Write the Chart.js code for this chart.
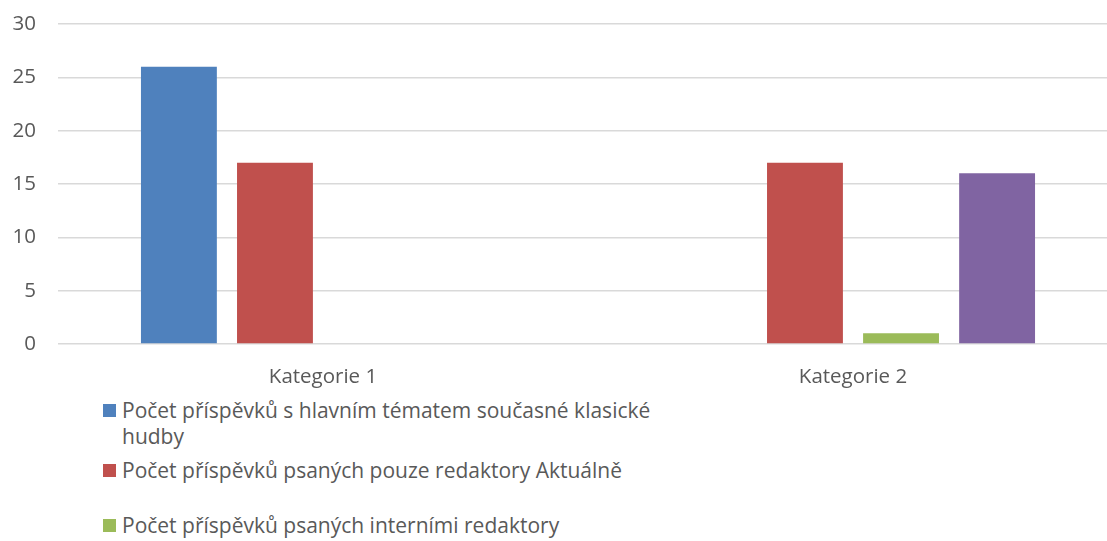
<!DOCTYPE html>
<html lang="cs">
<head>
    <meta charset="UTF-8">
    <title>Počet příspěvků</title>
    <script src="https://cdn.jsdelivr.net/npm/chart.js"></script>
    <style>
        html, body {
            margin: 0;
            width: 1107px;
            height: 541px;
            overflow: hidden;
            background: #fff;
            font-family: "Open Sans", sans-serif;
            color: #595959;
        }
        #wrap {
            position: absolute;
            left: 0;
            top: 0;
            width: 1120px;
            height: 392px;
        }
        #legend {
            position: absolute;
            left: 103px;
            top: 397px;
            width: 562px;
            font-size: 21px;
            line-height: 26px;
        }
        .item {
            display: flex;
            align-items: flex-start;
            min-height: 55px;
            padding-bottom: 8px;
            box-sizing: border-box;
        }
        .box {
            flex: 0 0 13px;
            height: 13px;
            margin: 7px 6px 0 0;
        }
    </style>
</head>
<body>
    <div id="wrap"><canvas id="chart"></canvas></div>
    <div id="legend"></div>
    <script>
        // data
        const categories = ['Kategorie 1', 'Kategorie 2'];
        const seriesNames = [
            'Počet příspěvků s hlavním tématem současné klasické hudby',
            'Počet příspěvků psaných pouze redaktory Aktuálně',
            'Počet příspěvků psaných interními redaktory',
            'Počet příspěvků psaných externími redaktory'
        ];
        const classicalMusic = [26, null];
        const onlyAktualne = [17, 17];
        const internal = [null, 1];
        const external = [null, 16];
        const yTicks = [0, 5, 10, 15, 20, 25, 30];

        const colors = ['#4f81bd', '#c0504d', '#9bbb59', '#8064a2'];
        const values = [classicalMusic, onlyAktualne, internal, external];

        const ctx = document.getElementById('chart').getContext('2d');
        const chart = new Chart(ctx, {
            type: 'bar',
            data: {
                labels: categories,
                datasets: values.map((v, i) => ({
                    label: seriesNames[i],
                    data: v,
                    backgroundColor: colors[i],
                    categoryPercentage: 0.725,
                    barPercentage: 0.79
                }))
            },
            options: {
                responsive: true,
                maintainAspectRatio: false,
                animation: false,
                layout: { padding: { top: 24, right: 2, bottom: 0 } },
                plugins: {
                    legend: { display: false },
                    tooltip: { enabled: false }
                },
                scales: {
                    x: {
                        afterFit: s => { s.height = 48; },
                        grid: { display: false },
                        border: { display: false },
                        ticks: {
                            color: '#595959',
                            font: { family: 'Open Sans', size: 20.5 },
                            padding: 13
                        }
                    },
                    y: {
                        min: 0,
                        max: 30,
                        afterFit: s => {
                            s.width = 58;
                            s.paddingTop = 0;
                            s.paddingBottom = 0;
                        },
                        afterBuildTicks: s => { s.ticks = yTicks.map(v => ({ value: v })); },
                        grid: { color: '#d9d9d9', lineWidth: 1.5, drawTicks: false },
                        border: { display: false },
                        ticks: {
                            color: '#595959',
                            font: { family: 'Open Sans', size: 20.5 },
                            padding: 22
                        }
                    }
                }
            }
        });

        // html legend so long names can wrap like in the original
        const legend = document.getElementById('legend');
        chart.data.datasets.forEach(ds => {
            const item = document.createElement('div');
            item.className = 'item';
            const box = document.createElement('span');
            box.className = 'box';
            box.style.background = ds.backgroundColor;
            const txt = document.createElement('span');
            txt.textContent = ds.label;
            item.appendChild(box);
            item.appendChild(txt);
            legend.appendChild(item);
        });
    </script>
</body>
</html>
